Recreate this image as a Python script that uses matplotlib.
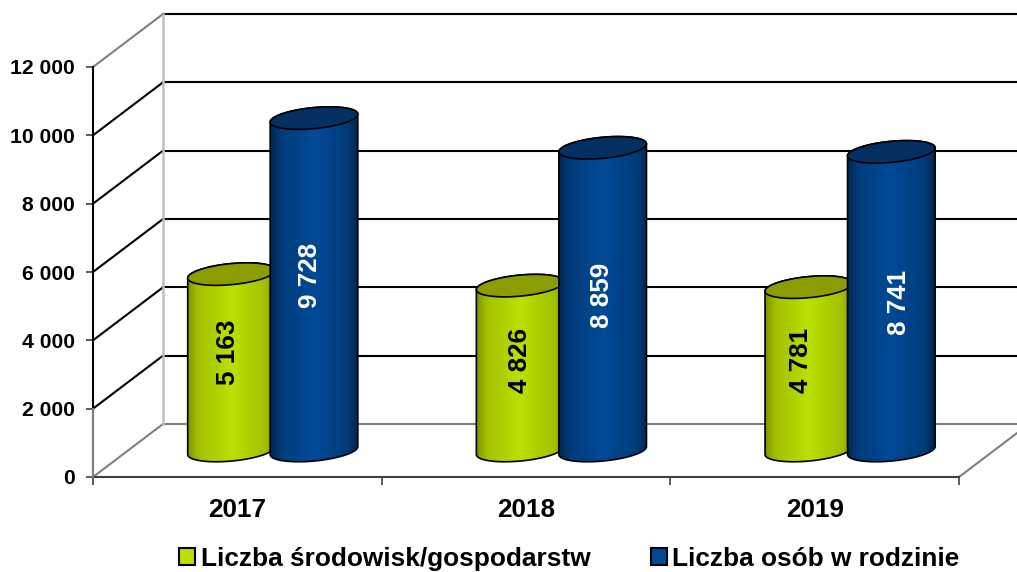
import numpy as np
import matplotlib
matplotlib.use('Agg')
import matplotlib.pyplot as plt
from matplotlib.patches import Polygon, Patch
from matplotlib.colors import to_rgb

plt.rcParams['font.family'] = ['Liberation Sans', 'DejaVu Sans']
plt.rcParams['font.weight'] = 'bold'

years = ['2017', '2018', '2019']
households = [5163, 4826, 4781]
persons = [9728, 8859, 8741]
series_names = ['Liczba środowisk/gospodarstw', 'Liczba osób w rodzinie']
y_ticks = [0, 2000, 4000, 6000, 8000, 10000, 12000]

# front plane of the fake 3d box, in pixels of the 1017x572 picture
W, H = 1017, 572
LEFT, RIGHT, BOTTOM, TOP = 93, 959, 477, 67
px_x = (RIGHT - LEFT) / 3
px_y = (BOTTOM - TOP) / 12000
depth_x = 70 / px_x
depth_y = 53 / px_y

fig = plt.figure(figsize=(W / 100, H / 100), dpi=100, facecolor='white')
ax = fig.add_axes([LEFT / W, 1 - BOTTOM / H, (RIGHT - LEFT) / W, (BOTTOM - TOP) / H])
ax.patch.set_visible(False)
ax.set_xlim(0, 3)
ax.set_ylim(0, 12000)


def fmt(v):
    return f'{v:,}'.replace(',', ' ')


# walls
far_right = 3.4
for v in y_ticks:
    col = '#808080' if v in (0, 12000) else '#000000'
    ax.plot([0, depth_x], [v, v + depth_y], color=col, lw=1.5, clip_on=False, zorder=1)
    col = '#808080' if v == 0 else '#000000'
    ax.plot([depth_x, far_right], [v + depth_y, v + depth_y], color=col, lw=1.5, clip_on=False, zorder=1)
ax.plot([depth_x, depth_x], [depth_y, 12000 + depth_y], color='#c0c0c0', lw=1.8, clip_on=False, zorder=1)
ax.plot([3, 3 + depth_x], [0, depth_y], color='#808080', lw=1.5, clip_on=False, zorder=1)

# axes
for s in ['top', 'right']:
    ax.spines[s].set_visible(False)
ax.spines['left'].set_color('#000000')
ax.spines['left'].set_linewidth(1.5)
ax.spines['bottom'].set_color('#404040')
ax.spines['bottom'].set_linewidth(1.5)
ax.plot([0, 0], [0, 2000], color='#808080', lw=1.5, clip_on=False, zorder=3)
ax.set_yticks(y_ticks)
ax.set_yticklabels([fmt(v) for v in y_ticks], fontsize=15.2)
ax.tick_params(axis='y', length=5, width=1.2, color='#404040', pad=8)
ax.set_xticks([0, 1, 2, 3])
ax.set_xticklabels([])
ax.tick_params(axis='x', which='major', length=6, width=1.2, color='#404040')
ax.set_xticks([0.5, 1.5, 2.5], minor=True)
ax.set_xticklabels(years, minor=True, fontsize=18.8)
ax.tick_params(axis='x', which='minor', length=0, pad=15)

GREEN = {'edge': '#7e9000', 'mid': '#bce000', 'top': '#8b9d00'}
BLUE = {'edge': '#02264f', 'mid': '#004a96', 'top': '#033060'}
tilt = np.radians(5.5)
base = depth_y / 2

# label nudges in pixels, the labels do not sit in the exact middle of the cylinders
green_dx = [-3.5, -0.5, -7.5]
green_dy = [10, 8, 8]
blue_dx = [-4, -1, 8]
blue_dy = [8.5, 4, -1]


def ring(cx, v, a, b, t):
    # ellipse points, tilted a bit, size given in pixels
    ex = a * np.cos(t)
    ey = b * np.sin(t)
    px = ex * np.cos(tilt) - ey * np.sin(tilt)
    py = ex * np.sin(tilt) + ey * np.cos(tilt)
    return np.column_stack([cx + px / px_x, base + v + py / px_y])


def cylinder(cx, v, colors, z):
    a, b = 44, 10.5
    low = ring(cx, 0, a, b, np.linspace(np.pi, 2 * np.pi, 50))
    up = ring(cx, v, a, b, np.linspace(0, np.pi, 50))
    body = Polygon(np.vstack([low, up]), closed=True, facecolor='none',
                   edgecolor='#000000', lw=1.2, zorder=z + 0.2)
    ax.add_patch(body)
    stops = [0, 0.12, 0.5, 0.88, 1]
    weight = [0, 0.6, 1, 0.6, 0]
    e, m = np.array(to_rgb(colors['edge'])), np.array(to_rgb(colors['mid']))
    pos = np.linspace(0, 1, 200)
    w = np.interp(pos, stops, weight)[:, None]
    grad = (e + (m - e) * w)[None, :, :]
    ext = [cx - a / px_x, cx + a / px_x, base - 20 / px_y, base + v + 20 / px_y]
    im = ax.imshow(grad, extent=ext, aspect='auto', zorder=z, interpolation='bilinear')
    clip = Polygon(np.vstack([low, up]), closed=True, transform=ax.transData)
    im.set_clip_path(clip)
    im.set_clip_box(None)
    lid = Polygon(ring(cx, v, a, b, np.linspace(0, 2 * np.pi, 100)), closed=True,
                  facecolor=colors['top'], edgecolor='#000000', lw=1.2, zorder=z + 0.3)
    ax.add_patch(lid)


green_x = (231.5 - 93) / px_x
blue_x = (314 - 93) / px_x
for i in range(3):
    gx = i + green_x
    bx = i + blue_x
    cylinder(gx, households[i], GREEN, 4)
    cylinder(bx, persons[i], BLUE, 5)
    ax.text(gx + green_dx[i] / px_x, base + households[i] / 2 + green_dy[i] / px_y, fmt(households[i]),
            rotation=90, ha='center', va='center', fontsize=18.7, color='black', zorder=8)
    ax.text(bx + blue_dx[i] / px_x, base + persons[i] / 2 + blue_dy[i] / px_y, fmt(persons[i]),
            rotation=90, ha='center', va='center', fontsize=18.7, color='white', zorder=8)
ax.set_xlim(0, 3)
ax.set_ylim(0, 12000)

handles = [Patch(facecolor=GREEN['mid'], edgecolor='black', lw=1.5),
           Patch(facecolor=BLUE['mid'], edgecolor='black', lw=1.5)]
fig.legend(handles, series_names, ncol=2, loc='lower left', bbox_to_anchor=(158 / W, -20 / H),
           frameon=False, fontsize=18.9, handlelength=0.62, handleheight=0.62,
           handletextpad=0.2, columnspacing=2.3, borderpad=0.3)

fig.savefig('out.png', dpi=100)
